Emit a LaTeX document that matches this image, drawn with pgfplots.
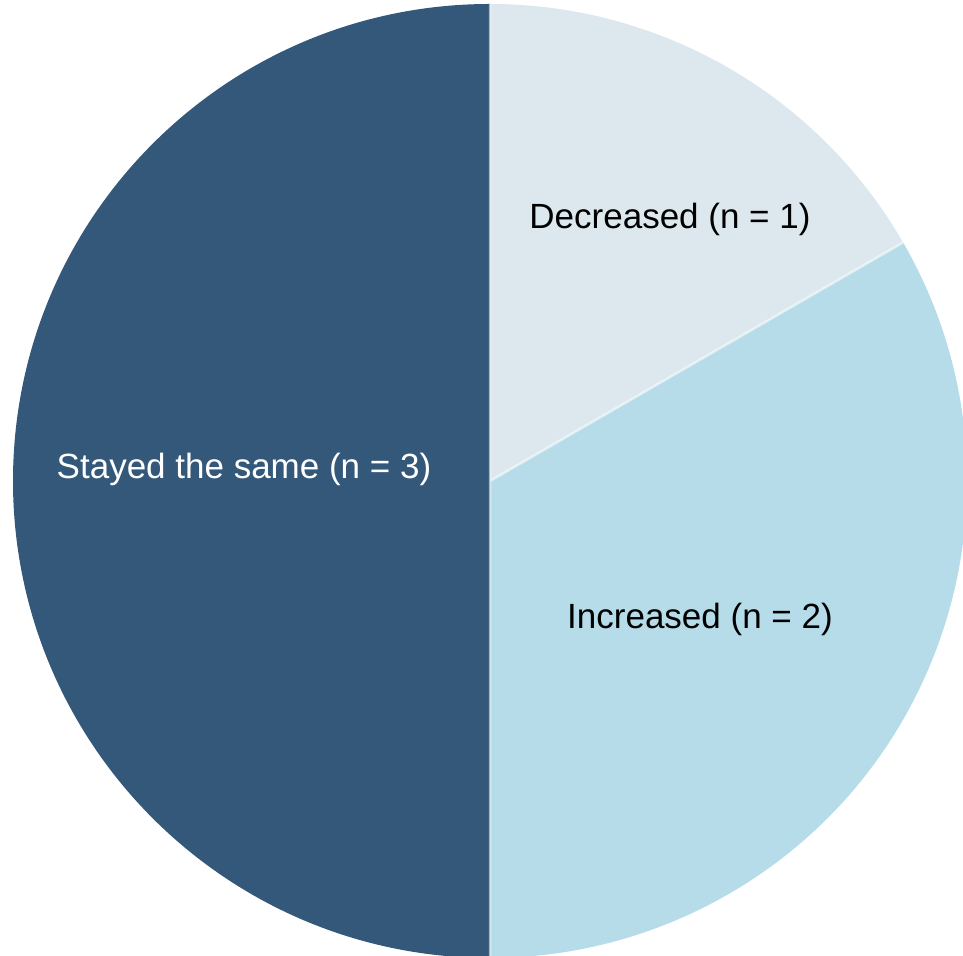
\documentclass[border=0pt]{standalone}
\usepackage{pgfplots}
\usepackage{pgfplotstable}
\pgfplotsset{compat=1.18}
\usepackage{fontspec}
\setmainfont{Liberation Sans}

\definecolor{cDec}{RGB}{220,232,237}
\definecolor{cInc}{RGB}{181,220,232}
\definecolor{cSame}{RGB}{51,88,122}

% responses per category
\pgfplotstableread{
label n
Decreased 1
Increased 2
Same 3
}\slices

\begin{document}
\begin{tikzpicture}
\pgfplotstablegetelem{0}{n}\of\slices \let\nDec\pgfplotsretval
\pgfplotstablegetelem{1}{n}\of\slices \let\nInc\pgfplotsretval
\pgfplotstablegetelem{2}{n}\of\slices \let\nSame\pgfplotsretval
\pgfmathsetmacro\total{\nDec+\nInc+\nSame}
% slices run clockwise from 12 o'clock
\pgfmathsetmacro\aA{90}
\pgfmathsetmacro\aB{\aA-360*\nDec/\total}
\pgfmathsetmacro\aC{\aB-360*\nInc/\total}
\pgfmathsetmacro\aD{\aC-360*\nSame/\total}
\def\R{477}
\begin{axis}[
  at={(0,0)}, anchor=south west,
  width=963bp, height=956bp, scale only axis,
  xmin=-490, xmax=473, ymin=-475, ymax=481,
  hide axis, clip=true,
]
\fill[cDec] (0,0) -- ({\R*cos(\aA)},{\R*sin(\aA)})
  arc[start angle=\aA, end angle=\aB, radius=\R bp] -- cycle;
\fill[cInc] (0,0) -- ({\R*cos(\aB)},{\R*sin(\aB)})
  arc[start angle=\aB, end angle=\aC, radius=\R bp] -- cycle;
\fill[cSame] (0,0) -- ({\R*cos(\aC)},{\R*sin(\aC)})
  arc[start angle=\aC, end angle=\aD, radius=\R bp] -- cycle;
% slice borders
\draw[white, line width=2.5bp, draw opacity=0.55]
  ({\R*cos(\aA)},{\R*sin(\aA)}) -- (0,0) -- ({\R*cos(\aB)},{\R*sin(\aB)})
  (0,0) -- ({\R*cos(\aC)},{\R*sin(\aC)});
\node[anchor=base, text=black, font=\fontsize{35bp}{40bp}\selectfont]
  at (180,252) {Decreased (n = 1)};
\node[anchor=base, text=black, font=\fontsize{35bp}{40bp}\selectfont]
  at (210,-148) {Increased (n = 2)};
\node[anchor=base, text=white, font=\fontsize{35bp}{40bp}\selectfont]
  at (-246,2) {Stayed the same (n = 3)};
\end{axis}
\pgfresetboundingbox
\useasboundingbox (0,0) rectangle (963bp,956bp);
\end{tikzpicture}
\end{document}
